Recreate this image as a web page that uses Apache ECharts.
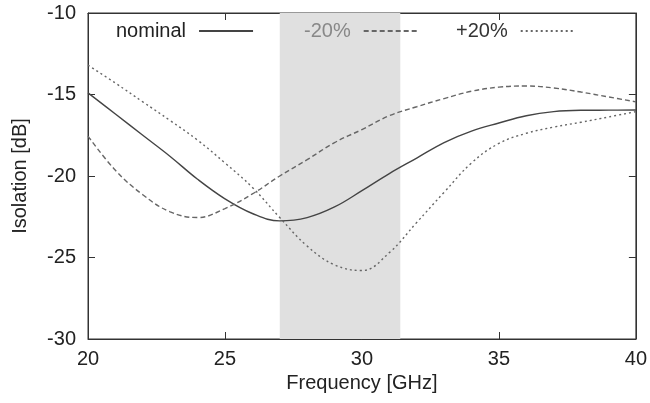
<!DOCTYPE html>
<html>
<head>
<meta charset="utf-8">
<script src="https://cdn.jsdelivr.net/npm/echarts@6/dist/echarts.min.js"></script>
<style>
  html, body { margin: 0; padding: 0; background: #fff; }
  #chart { width: 650px; height: 403px; }
</style>
</head>
<body>
<div id="chart"></div>
<script>
// frequency points (GHz)
const freq = [20, 21, 22, 23, 24, 25, 26, 27, 28, 29, 30, 31, 32, 33, 34, 35, 36, 37, 38, 39, 40];
// isolation (dB)
const nominal = [-14.9, -16.2, -17.5, -18.8, -20.2, -21.4, -22.3, -22.75, -22.55, -21.9, -20.9, -19.85, -18.9, -17.95, -17.25, -16.75, -16.3, -16.05, -15.97, -15.96, -15.95];
const minus20 = [-17.55, -19.65, -21.15, -22.2, -22.55, -22.0, -21.1, -20.0, -19.0, -17.95, -17.15, -16.3, -15.75, -15.25, -14.8, -14.55, -14.48, -14.6, -14.85, -15.15, -15.45];
const plus20 = [-13.2, -14.3, -15.45, -16.6, -17.8, -19.2, -20.7, -22.55, -24.3, -25.45, -25.8, -24.7, -22.85, -21.0, -19.2, -18.0, -17.38, -17.0, -16.7, -16.38, -16.05];
// shaded band (GHz)
const band = [27, 31.4];

const pairs = (ys) => freq.map((x, i) => [x, ys[i]]);
const font = "'Liberation Sans', Arial, sans-serif";

const chart = echarts.init(document.getElementById("chart"));

// one legend per entry, gnuplot style: text left, sample right
function legendAt(left, name, color) {
  return {
    left: left,
    top: 16,
    align: "right",
    itemWidth: 54,
    itemHeight: 14,
    selectedMode: false,
    data: [name],
    itemStyle: { opacity: 0 },
    textStyle: { fontFamily: font, fontSize: 20, color: color, padding: [0, 8, 0, 0] },
  };
}

chart.setOption({
  animation: false,
  backgroundColor: "#fff",
  grid: { left: 88, right: 11, top: 13, bottom: 64, show: true, borderColor: "#333", borderWidth: 1 },
  legend: [
    legendAt(111, "nominal", "#222"),
    legendAt(299, "-20%", "#888"),
    legendAt(451, "+20%", "#333"),
  ],
  xAxis: [
    {
      type: "value",
      min: 20,
      max: 40,
      interval: 5,
      name: "Frequency [GHz]",
      nameLocation: "middle",
      nameGap: 34,
      nameTextStyle: { fontFamily: font, fontSize: 20, color: "#222" },
      axisLine: { lineStyle: { color: "#333" } },
      axisTick: { inside: true, length: 7, lineStyle: { color: "#333" } },
      axisLabel: { fontFamily: font, fontSize: 20, color: "#222", margin: 10 },
      splitLine: { show: false },
    },
    {
      type: "value",
      position: "top",
      min: 20,
      max: 40,
      interval: 5,
      axisLine: { lineStyle: { color: "#333" } },
      axisTick: { inside: true, length: 7, lineStyle: { color: "#333" } },
      axisLabel: { show: false },
      splitLine: { show: false },
    },
  ],
  yAxis: [
    {
      type: "value",
      min: -30,
      max: -10,
      interval: 5,
      name: "Isolation [dB]",
      nameLocation: "middle",
      nameGap: 58,
      nameTextStyle: { fontFamily: font, fontSize: 20, color: "#222" },
      axisLine: { show: true, lineStyle: { color: "#333" } },
      axisTick: { show: true, inside: true, length: 7, lineStyle: { color: "#333" } },
      axisLabel: { fontFamily: font, fontSize: 20, color: "#222", margin: 12 },
      splitLine: { show: false },
    },
    {
      type: "value",
      position: "right",
      min: -30,
      max: -10,
      interval: 5,
      axisLine: { show: true, lineStyle: { color: "#333" } },
      axisTick: { show: true, inside: true, length: 7, lineStyle: { color: "#333" } },
      axisLabel: { show: false },
      splitLine: { show: false },
    },
  ],
  series: [
    {
      // band holder, drawn under the curves
      type: "line",
      name: "band",
      z: 1,
      data: [],
      markArea: {
        silent: true,
        itemStyle: { color: "#e0e0e0" },
        data: [[{ xAxis: band[0] }, { xAxis: band[1] }]],
      },
    },
    {
      type: "line",
      name: "nominal",
      z: 5,
      smooth: 0.4,
      symbol: "none",
      lineStyle: { color: "#444", width: 1.4 },
      itemStyle: { color: "#444" },
      data: pairs(nominal),
    },
    {
      type: "line",
      name: "-20%",
      z: 5,
      smooth: 0.4,
      symbol: "none",
      lineStyle: { color: "#666", width: 1.4, type: [5, 3] },
      itemStyle: { color: "#666" },
      data: pairs(minus20),
    },
    {
      type: "line",
      name: "+20%",
      z: 5,
      smooth: 0.4,
      symbol: "none",
      lineStyle: { color: "#666", width: 1.4, type: [2, 3] },
      itemStyle: { color: "#666" },
      data: pairs(plus20),
    },
  ],
});
</script>
</body>
</html>
